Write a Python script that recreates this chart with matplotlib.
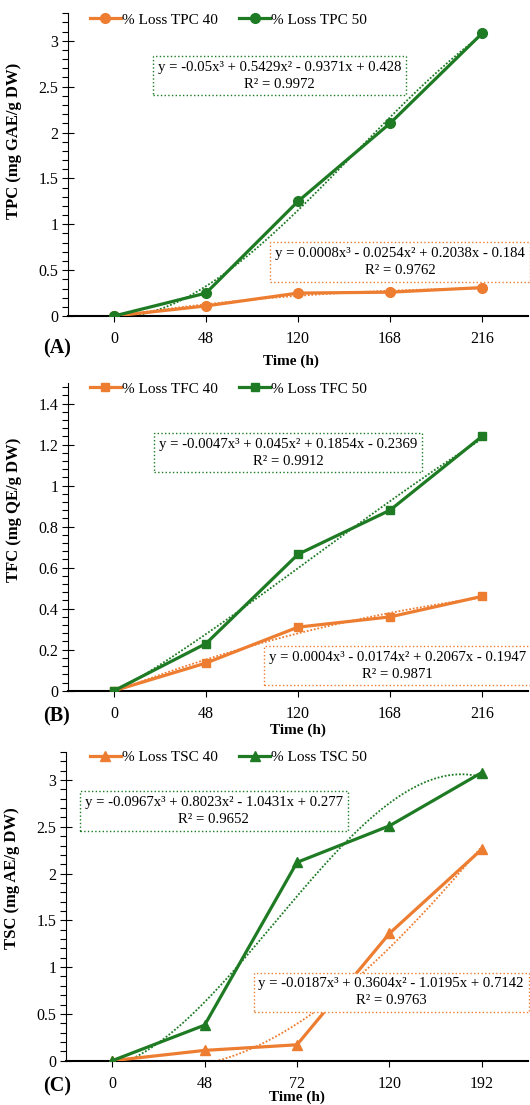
import matplotlib
matplotlib.use('Agg')
import matplotlib.pyplot as plt
from matplotlib.ticker import MultipleLocator
import numpy as np

plt.rcParams['font.family'] = ['Liberation Serif', 'DejaVu Serif']

ORANGE = "#ED7D31"
GREEN = "#1E7B24"

# Panel A - TPC
tpc_hours = ["0", "48", "120", "168", "216"]
tpc_40 = [0.0, 0.11, 0.25, 0.26, 0.31]
tpc_50 = [0.0, 0.25, 1.25, 2.10, 3.08]
tpc_40_fit = [0.0008, -0.0254, 0.2038, -0.184]
tpc_50_fit = [-0.05, 0.5429, -0.9371, 0.428]
tpc_40_eq = "y = 0.0008x³ - 0.0254x² + 0.2038x - 0.184\nR² = 0.9762"
tpc_50_eq = "y = -0.05x³ + 0.5429x² - 0.9371x + 0.428\nR² = 0.9972"

# Panel B - TFC
tfc_hours = ["0", "48", "120", "168", "216"]
tfc_40 = [0.0, 0.135, 0.31, 0.36, 0.46]
tfc_50 = [0.0, 0.23, 0.665, 0.88, 1.24]
tfc_40_fit = [0.0004, -0.0174, 0.2067, -0.1947]
tfc_50_fit = [-0.0047, 0.045, 0.1854, -0.2369]
tfc_40_eq = "y = 0.0004x³ - 0.0174x² + 0.2067x - 0.1947\nR² = 0.9871"
tfc_50_eq = "y = -0.0047x³ + 0.045x² + 0.1854x - 0.2369\nR² = 0.9912"

# Panel C - TSC
tsc_hours = ["0", "48", "72", "120", "192"]
tsc_40 = [0.0, 0.11, 0.17, 1.36, 2.26]
tsc_50 = [0.0, 0.38, 2.12, 2.51, 3.08]
tsc_40_fit = [-0.0187, 0.3604, -1.0195, 0.7142]
tsc_50_fit = [-0.0967, 0.8023, -1.0431, 0.277]
tsc_40_eq = "y = -0.0187x³ + 0.3604x² - 1.0195x + 0.7142\nR² = 0.9763"
tsc_50_eq = "y = -0.0967x³ + 0.8023x² - 1.0431x + 0.277\nR² = 0.9652"

panels = [
    dict(rect=[68/530, 0.714, 460/530, 0.274], hours=tpc_hours, s40=tpc_40, s50=tpc_50,
         f40=tpc_40_fit, f50=tpc_50_fit, eq40=tpc_40_eq, eq50=tpc_50_eq,
         name="TPC", marker="o", ms=7, ymax=3.3, major=0.5,
         ylabel="TPC (mg GAE/g DW)", ylab_y=0.578, xlab=(0.485, -0.128),
         tag="(A)", tag_y=(1105-348)/1105, pos50=(2.80, 2.62), pos40=(4.11, 0.59),
         leg_y=(1105-20)/1105),
    dict(rect=[68/530, 0.3749, 460/530, 0.2785], hours=tfc_hours, s40=tfc_40, s50=tfc_50,
         f40=tfc_40_fit, f50=tfc_50_fit, eq40=tfc_40_eq, eq50=tfc_50_eq,
         name="TFC", marker="s", ms=6, ymax=1.5, major=0.2,
         ylabel="TFC (mg QE/g DW)", ylab_y=0.587, xlab=(0.5, -0.108),
         tag="(B)", tag_y=(1105-716.7)/1105, pos50=(2.89, 1.16), pos40=(4.08, 0.123),
         leg_y=(1105-389)/1105),
    dict(rect=[66/530, 0.0401, 462/530, 0.2794], hours=tsc_hours, s40=tsc_40, s50=tsc_50,
         f40=tsc_40_fit, f50=tsc_50_fit, eq40=tsc_40_eq, eq50=tsc_50_eq,
         name="TSC", marker="^", ms=7, ymax=3.3, major=0.5,
         ylabel="TSC (mg AE/g DW)", ylab_y=0.59, xlab=(0.5, -0.096),
         tag="(C)", tag_y=(1105-1086.7)/1105, pos50=(2.10, 2.67), pos40=(4.02, 0.73),
         leg_y=(1105-757)/1105),
]

fig = plt.figure(figsize=(5.3, 11.05), dpi=100)

for p in panels:
    ax = fig.add_axes(p["rect"])
    x = np.arange(1, len(p["hours"]) + 1)
    xs = np.linspace(1, len(p["hours"]), 200)

    ax.plot(x, p["s40"], color=ORANGE, lw=2.3, marker=p["marker"], ms=p["ms"],
            label=f"% Loss {p['name']} 40", zorder=3)
    ax.plot(x, p["s50"], color=GREEN, lw=2.3, marker=p["marker"], ms=p["ms"],
            label=f"% Loss {p['name']} 50", zorder=4)
    # polynomial trendlines from the printed equations
    ax.plot(xs, np.polyval(p["f40"], xs), color=ORANGE, lw=1.3, ls=(0, (1, 1)), zorder=2)
    ax.plot(xs, np.polyval(p["f50"], xs), color=GREEN, lw=1.3, ls=(0, (1, 1)), zorder=2)

    ax.set_xlim(0.5, len(p["hours"]) + 0.5)
    ax.set_ylim(0, p["ymax"])
    ax.set_xticks(x)
    ax.set_xticklabels(p["hours"])
    ax.yaxis.set_major_locator(MultipleLocator(p["major"]))
    ax.yaxis.set_minor_locator(MultipleLocator(p["major"] / 5))
    ax.yaxis.set_major_formatter(matplotlib.ticker.FuncFormatter(lambda v, _: f"{v:g}"))

    for s in ["top", "right"]:
        ax.spines[s].set_visible(False)
    ax.spines["left"].set_linewidth(0.8)
    ax.spines["bottom"].set_linewidth(1.5)
    ax.tick_params(axis="y", which="major", direction="inout", length=8, width=0.8,
                   labelsize=11.5, pad=3)
    ax.tick_params(axis="y", which="minor", direction="out", length=4, width=0.8)
    ax.tick_params(axis="x", direction="out", length=4, width=0.8, labelsize=11.5, pad=7)

    ax.set_ylabel(p["ylabel"], fontsize=12, fontweight="bold")
    ax.yaxis.set_label_coords(-0.1, p["ylab_y"])
    ax.set_xlabel("Time (h)", fontsize=11, fontweight="bold")
    ax.xaxis.set_label_coords(*p["xlab"])

    ax.text(p["pos50"][0], p["pos50"][1], p["eq50"], ha="center", va="center",
            multialignment="center", fontsize=10.6, linespacing=1.4, zorder=5,
            bbox=dict(boxstyle="square,pad=0.32", fc="white", ec=GREEN, ls=":", lw=1.0))
    ax.text(p["pos40"][0], p["pos40"][1], p["eq40"], ha="center", va="center",
            multialignment="center", fontsize=10.6, linespacing=1.4, zorder=5, clip_on=False,
            bbox=dict(boxstyle="square,pad=0.32", fc="white", ec=ORANGE, ls=":", lw=1.0))

    fig.text(57/530, p["tag_y"], p["tag"], ha="center", va="center",
             fontsize=14.5, fontweight="bold")

    fig.legend(*ax.get_legend_handles_labels(), loc="center left",
               bbox_to_anchor=(90/530, p["leg_y"]), ncol=2, frameon=False,
               fontsize=11, handlelength=2.0, handletextpad=0.1, columnspacing=1.4,
               borderpad=0, borderaxespad=0)

fig.savefig("out.png", dpi=100, facecolor="white")
